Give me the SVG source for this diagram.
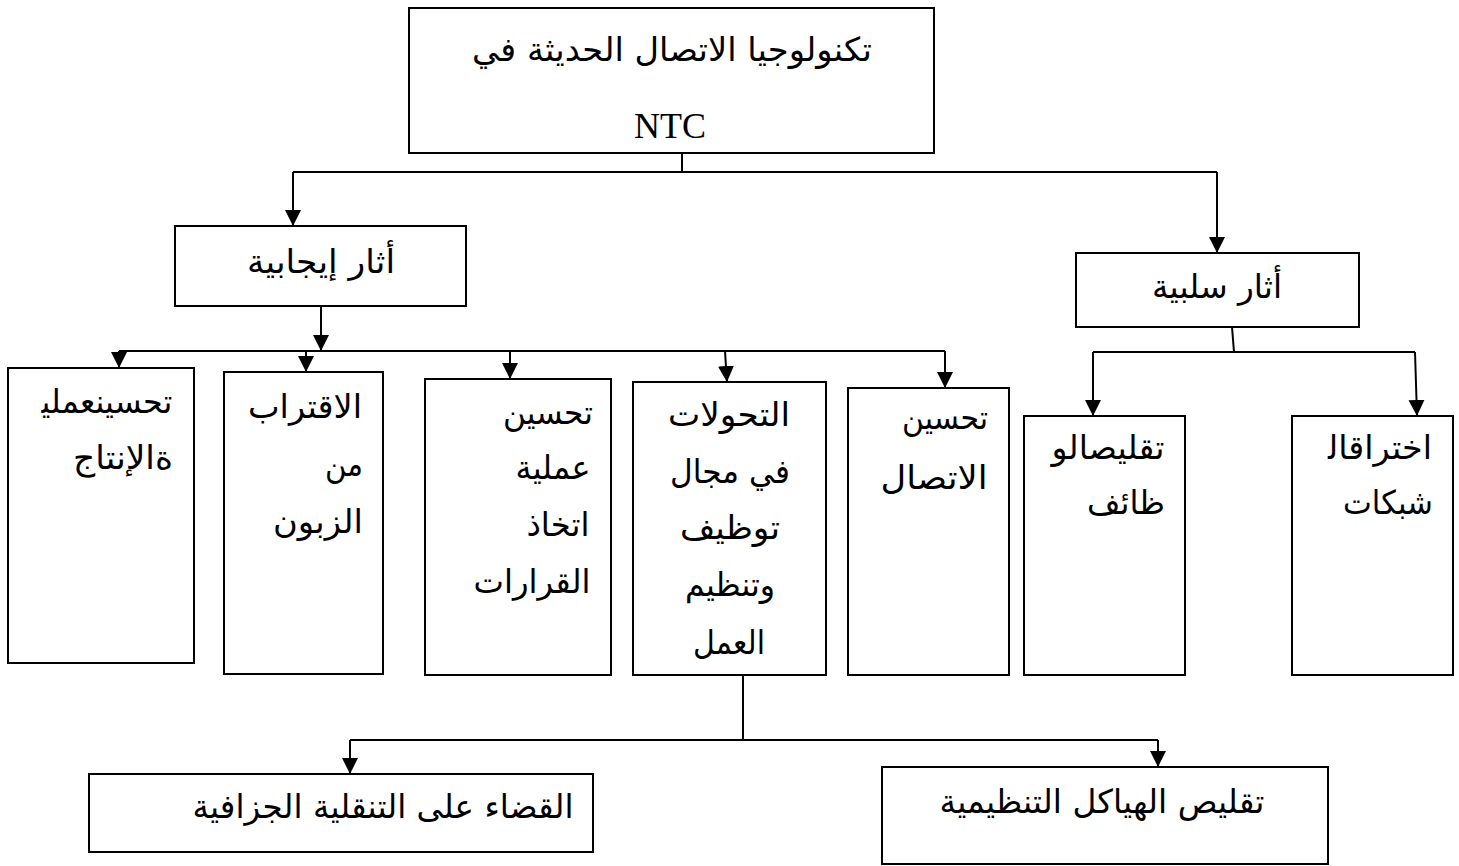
<svg xmlns="http://www.w3.org/2000/svg" width="1459" height="866" viewBox="0 0 1459 866">
<style>
.box{fill:#fff;stroke:#000;stroke-width:2}
.ar{font-family:"DejaVu Sans","Noto Sans",sans-serif;font-size:33px;fill:#000;text-anchor:middle}
.en{font-family:"Liberation Serif","Times New Roman",serif;font-size:36px;fill:#000;text-anchor:middle}
.ln{fill:none;stroke:#000;stroke-width:2}
</style>
<defs>
<marker id="arr" markerUnits="userSpaceOnUse" markerWidth="17" markerHeight="17" refX="16" refY="8" orient="auto" viewBox="0 0 17 17">
<path d="M0,0 L16,8 L0,16 Z" fill="#000"/>
</marker>
</defs>
<rect width="1459" height="866" fill="#fff"/>
<g id="connectors">
<path class="ln" d="M682,153 V172"/>
<path class="ln" d="M293,172 H1217"/>
<path class="ln" d="M293,172 V226" marker-end="url(#arr)"/>
<path class="ln" d="M1217,172 V253" marker-end="url(#arr)"/>
<path class="ln" d="M321,306 V351" marker-end="url(#arr)"/>
<path class="ln" d="M119,351 H945"/>
<path class="ln" d="M119,351 V368" marker-end="url(#arr)"/>
<path class="ln" d="M306,351 V372" marker-end="url(#arr)"/>
<path class="ln" d="M510,351 V379" marker-end="url(#arr)"/>
<path class="ln" d="M725,351 L727,382" marker-end="url(#arr)"/>
<path class="ln" d="M945,351 V388" marker-end="url(#arr)"/>
<path class="ln" d="M1232,327 L1234,352"/>
<path class="ln" d="M1093,352 H1415"/>
<path class="ln" d="M1093,352 V416" marker-end="url(#arr)"/>
<path class="ln" d="M1415,352 L1417,416" marker-end="url(#arr)"/>
<path class="ln" d="M743,675 V740"/>
<path class="ln" d="M350,740 H1158"/>
<path class="ln" d="M350,740 V774" marker-end="url(#arr)"/>
<path class="ln" d="M1158,740 V767" marker-end="url(#arr)"/>
</g>
<g id="ntc">
<rect class="box" x="409" y="8" width="525" height="145"/>
<text class="ar" x="672" y="61" textLength="400" lengthAdjust="spacingAndGlyphs">تكنولوجيا الاتصال الحديثة في</text>
<text class="en" x="670" y="138">NTC</text>
</g>
<g id="positive">
<rect class="box" x="175" y="226" width="291" height="80"/>
<text class="ar" x="321" y="273" textLength="148" lengthAdjust="spacingAndGlyphs">أثار إيجابية</text>
</g>
<g id="negative">
<rect class="box" x="1076" y="253" width="283" height="74"/>
<text class="ar" x="1217" y="298" textLength="130" lengthAdjust="spacingAndGlyphs">أثار سلبية</text>
</g>
<g id="production">
<rect class="box" x="8" y="368" width="186" height="295"/>
<text class="ar" x="107" y="413" textLength="131" lengthAdjust="spacingAndGlyphs">تحسينعملي&#x200D;</text>
<text class="ar" x="123" y="469" textLength="100" lengthAdjust="spacingAndGlyphs">ةالإنتاج</text>
</g>
<g id="customer">
<rect class="box" x="224" y="372" width="159" height="302"/>
<text class="ar" x="305" y="418" textLength="114" lengthAdjust="spacingAndGlyphs">الاقتراب</text>
<text class="ar" x="344" y="476" textLength="38" lengthAdjust="spacingAndGlyphs">من</text>
<text class="ar" x="318" y="533" textLength="90" lengthAdjust="spacingAndGlyphs">الزبون</text>
</g>
<g id="decisions">
<rect class="box" x="425" y="379" width="186" height="296"/>
<text class="ar" x="548" y="424" textLength="90" lengthAdjust="spacingAndGlyphs">تحسين</text>
<text class="ar" x="553" y="479" textLength="75" lengthAdjust="spacingAndGlyphs">عملية</text>
<text class="ar" x="558" y="536" textLength="63" lengthAdjust="spacingAndGlyphs">اتخاذ</text>
<text class="ar" x="532" y="593" textLength="117" lengthAdjust="spacingAndGlyphs">القرارات</text>
</g>
<g id="work">
<rect class="box" x="633" y="382" width="193" height="293"/>
<text class="ar" x="729" y="426" textLength="122" lengthAdjust="spacingAndGlyphs">التحولات</text>
<text class="ar" x="730" y="483" textLength="120" lengthAdjust="spacingAndGlyphs">في مجال</text>
<text class="ar" x="730" y="539" textLength="100" lengthAdjust="spacingAndGlyphs">توظيف</text>
<text class="ar" x="730" y="596" textLength="90" lengthAdjust="spacingAndGlyphs">وتنظيم</text>
<text class="ar" x="729" y="654" textLength="72" lengthAdjust="spacingAndGlyphs">العمل</text>
</g>
<g id="communication">
<rect class="box" x="848" y="388" width="161" height="287"/>
<text class="ar" x="945" y="429" textLength="86" lengthAdjust="spacingAndGlyphs">تحسين</text>
<text class="ar" x="934" y="489" textLength="107" lengthAdjust="spacingAndGlyphs">الاتصال</text>
</g>
<g id="jobs">
<rect class="box" x="1024" y="416" width="161" height="259"/>
<text class="ar" x="1108" y="459" textLength="113" lengthAdjust="spacingAndGlyphs">تقليصالو</text>
<text class="ar" x="1126" y="514" textLength="78" lengthAdjust="spacingAndGlyphs">ظائف</text>
</g>
<g id="networks">
<rect class="box" x="1292" y="416" width="161" height="259"/>
<text class="ar" x="1380" y="459" textLength="104" lengthAdjust="spacingAndGlyphs">اختراقال&#x200D;</text>
<text class="ar" x="1388" y="514" textLength="90" lengthAdjust="spacingAndGlyphs">شبكات</text>
</g>
<g id="mobility">
<rect class="box" x="89" y="774" width="504" height="78"/>
<text class="ar" x="383" y="818" textLength="381" lengthAdjust="spacingAndGlyphs">القضاء على التنقلية الجزافية</text>
</g>
<g id="structures">
<rect class="box" x="882" y="767" width="446" height="97"/>
<text class="ar" x="1102" y="813" textLength="325" lengthAdjust="spacingAndGlyphs">تقليص الهياكل التنظيمية</text>
</g>
</svg>
